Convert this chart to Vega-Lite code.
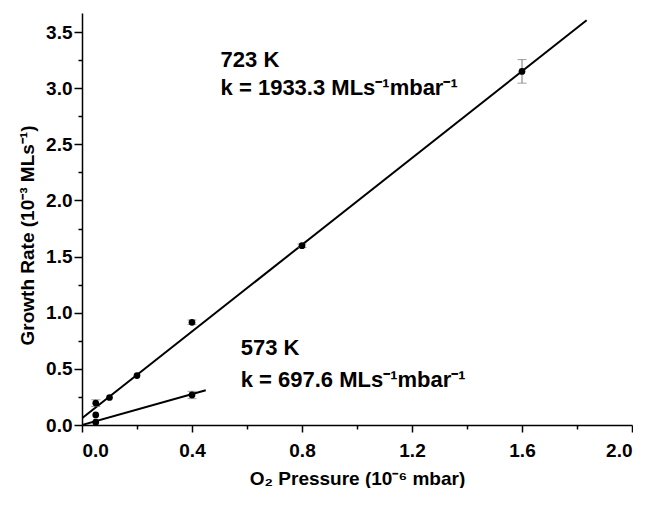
{
  "$schema": "https://vega.github.io/schema/vega-lite/v6.json",
  "width": 550,
  "height": 412,
  "padding": {"left": 18, "top": 13, "right": 0, "bottom": 0},
  "background": "white",
  "config": {
    "view": {"stroke": null},
    "font": "Liberation Sans",
    "axis": {
      "domainColor": "black", "domainWidth": 1.5, "tickColor": "black", "tickWidth": 1.5,
      "grid": false, "labelFont": "Liberation Sans", "labelFontSize": 19, "labelFontWeight": "bold",
      "labelColor": "black", "titleFont": "Liberation Sans", "titleFontSize": 19,
      "titleFontWeight": "bold", "titleColor": "black"
    }
  },
  "datasets": {
    "fits": [
      {"pressure": 0, "rate": 0.06, "temp": "723 K"},
      {"pressure": 1.835, "rate": 3.605, "temp": "723 K"},
      {"pressure": 0, "rate": 0.0, "temp": "573 K"},
      {"pressure": 0.45, "rate": 0.31, "temp": "573 K"}
    ],
    "points": [
      {"pressure": 0.05, "rate": 0.195, "lo": 0.165, "hi": 0.225, "temp": "723 K"},
      {"pressure": 0.1, "rate": 0.245, "lo": null, "hi": null, "temp": "723 K"},
      {"pressure": 0.2, "rate": 0.44, "lo": null, "hi": null, "temp": "723 K"},
      {"pressure": 0.4, "rate": 0.915, "lo": 0.895, "hi": 0.935, "temp": "723 K"},
      {"pressure": 0.8, "rate": 1.597, "lo": 1.582, "hi": 1.612, "temp": "723 K"},
      {"pressure": 1.6, "rate": 3.15, "lo": 3.045, "hi": 3.255, "temp": "723 K"},
      {"pressure": 0.05, "rate": 0.09, "lo": null, "hi": null, "temp": "573 K"},
      {"pressure": 0.05, "rate": 0.025, "lo": null, "hi": null, "temp": "573 K"},
      {"pressure": 0.4, "rate": 0.268, "lo": 0.235, "hi": 0.3, "temp": "573 K"}
    ],
    "labels": [
      {"pressure": 0.504, "rate": 3.19, "text": "723 K"},
      {"pressure": 0.504, "rate": 2.94, "text": "k = 1933.3 MLs⁻¹mbar⁻¹"},
      {"pressure": 0.577, "rate": 0.623, "text": "573 K"},
      {"pressure": 0.577, "rate": 0.335, "text": "k = 697.6 MLs⁻¹mbar⁻¹"}
    ]
  },
  "encoding": {
    "x": {"field": "pressure", "type": "quantitative",
      "scale": {"domain": [0, 2], "nice": false, "zero": false},
      "axis": {
        "values": [0, 0.2, 0.4, 0.6, 0.8, 1.0, 1.2, 1.4, 1.6, 1.8, 2.0],
        "labelExpr": "round(datum.value*10) % 4 == 0 ? format(datum.value, '.1f') : ''",
        "tickSize": {"condition": {"test": "round(datum.value*10) % 4 == 0", "value": 7}, "value": 4},
        "labelPadding": 9,
        "title": "O₂ Pressure (10⁻⁶ mbar)", "titlePadding": 9, "orient": "bottom"}},
    "y": {"field": "rate", "type": "quantitative",
      "scale": {"domain": [0, 3.67], "nice": false, "zero": false},
      "axis": {
        "values": [0, 0.25, 0.5, 0.75, 1, 1.25, 1.5, 1.75, 2, 2.25, 2.5, 2.75, 3, 3.25, 3.5],
        "labelExpr": "round(datum.value*100) % 50 == 0 ? format(datum.value, '.1f') : ''",
        "tickSize": {"condition": {"test": "round(datum.value*100) % 50 == 0", "value": 8}, "value": 4},
        "labelPadding": 2,
        "title": "Growth Rate (10⁻³ MLs⁻¹)", "titlePadding": 8, "titleY": 222, "orient": "left"}}
  },
  "layer": [
    {
      "data": {"name": "fits"},
      "mark": {"type": "line", "color": "black", "strokeWidth": 2, "clip": true},
      "encoding": {"detail": {"field": "temp"}}
    },
    {
      "data": {"name": "points"},
      "transform": [{"filter": "datum.lo != null"}],
      "mark": {"type": "rule", "color": "#777777", "strokeWidth": 1},
      "encoding": {
        "y": {"field": "lo", "type": "quantitative"},
        "y2": {"field": "hi"}
      }
    },
    {
      "data": {"name": "points"},
      "transform": [{"filter": "datum.lo != null"}, {"fold": ["lo", "hi"], "as": ["end", "val"]}],
      "mark": {"type": "tick", "orient": "horizontal", "color": "#777777", "size": 9, "thickness": 1},
      "encoding": {
        "y": {"field": "val", "type": "quantitative"}
      }
    },
    {
      "data": {"name": "points"},
      "mark": {"type": "circle", "color": "black", "opacity": 1, "size": 45}
    },
    {
      "data": {"name": "labels"},
      "mark": {"type": "text", "align": "left", "baseline": "alphabetic", "font": "Liberation Sans",
        "fontSize": 22, "fontWeight": "bold", "color": "black"},
      "encoding": {"text": {"field": "text"}}
    }
  ]
}
